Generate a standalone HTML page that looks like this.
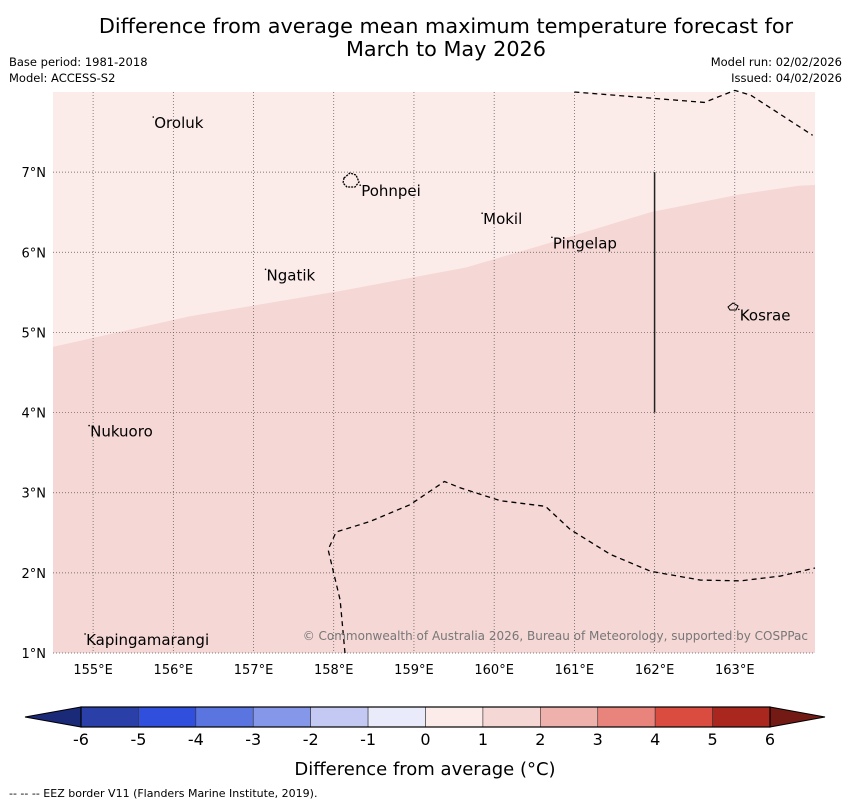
<!DOCTYPE html>
<html><head><meta charset="utf-8"><style>
body{margin:0;background:#fff;width:850px;height:804px;overflow:hidden;font-family:"Liberation Sans","DejaVu Sans",sans-serif}
</style></head><body>
<svg id="chart" width="850" height="804" xmlns="http://www.w3.org/2000/svg" font-family="DejaVu Sans, Liberation Sans, sans-serif">
<text x="446" y="33" font-size="20.8" text-anchor="middle">Difference from average mean maximum temperature forecast for</text>
<text x="446" y="56" font-size="20.8" text-anchor="middle">March to May 2026</text>
<text x="9" y="66" font-size="11.5">Base period: 1981-2018</text>
<text x="9" y="82" font-size="11.5">Model: ACCESS-S2</text>
<text x="842" y="66" font-size="11.5" text-anchor="end">Model run: 02/02/2026</text>
<text x="842" y="82" font-size="11.5" text-anchor="end">Issued: 04/02/2026</text>
<g id="map"></g>
<g id="cbar"></g>
<text x="425" y="775" font-size="18" text-anchor="middle">Difference from average (°C)</text>
<text x="9" y="797" font-size="11">--  --  -- EEZ border V11 (Flanders Marine Institute, 2019).</text>
</svg>
<script>
const lonTicks=[155,156,157,158,159,160,161,162,163];
const latTicks=[1,2,3,4,5,6,7];
const boundaryLon=[154.5,156.2,158.1,159.65,160.6,161.95,163.05,163.8,164];
const boundaryLat=[4.82,5.2,5.52,5.81,6.09,6.5,6.72,6.83,6.84];
const eezTopLon=[161.0,162.62,163.0,163.2,163.97];
const eezTopLat=[8.0,7.87,8.02,7.96,7.46];
const eezBotLon=[158.14,158.08,157.93,158.03,158.45,158.95,159.38,159.58,160.08,160.64,160.95,161.45,161.95,162.57,163.07,163.57,164.0];
const eezBotLat=[1.0,1.66,2.29,2.51,2.64,2.85,3.14,3.06,2.9,2.83,2.54,2.23,2.02,1.91,1.9,1.96,2.06];
const placeNames=["Oroluk","Pohnpei","Mokil","Pingelap","Ngatik","Kosrae","Nukuoro","Kapingamarangi"];
const placeLon=[155.75,158.33,159.85,160.72,157.15,163.05,154.95,154.9];
const placeLat=[7.7,6.85,6.5,6.2,5.8,5.3,3.85,1.25];
const cbLevels=[-6,-5,-4,-3,-2,-1,0,1,2,3,4,5,6];
const cbColors=["#2a40a8","#2f4fdc","#5a74e0","#8597e8","#c3c9f2","#e9ebfb","#fbebe9","#f5d7d5","#eeb1ac","#e8847c","#da4b40","#a9271f"];
const NS="http://www.w3.org/2000/svg";
const X0=53,X1=815,Y0=92,Y1=653,LON0=154.5,LON1=164,LAT0=1,LAT1=8;
const xs=l=>X0+(l-LON0)/(LON1-LON0)*(X1-X0);
const ys=l=>Y1-(l-LAT0)/(LAT1-LAT0)*(Y1-Y0);
function mk(tag,attrs,parent){const e=document.createElementNS(NS,tag);for(const k in attrs)e.setAttribute(k,attrs[k]);parent.appendChild(e);return e;}
const mapG=document.getElementById('map');
const topRegion=mk('rect',{x:X0,y:Y0,width:X1-X0,height:Y1-Y0,fill:'#fbebe9'},mapG);


let dPath='M'+X0+','+Y1;boundaryLon.forEach((l,i)=>dPath+=' L'+xs(l)+','+ys(boundaryLat[i]));dPath+=' L'+X1+','+Y1+'Z';
const lowRegion=mk('path',{d:dPath,fill:'#f5d7d5'},mapG);


lonTicks.forEach(l=>{const g=mk('line',{x1:xs(l),x2:xs(l),y1:Y0,y2:Y1,stroke:'#555','stroke-width':0.7,'stroke-dasharray':'1,2'},mapG);


const t=mk('text',{x:xs(l),y:674,'font-size':13,'text-anchor':'middle'},mapG);t.textContent=l+'°E';

});
latTicks.forEach(l=>{const g=mk('line',{x1:X0,x2:X1,y1:ys(l),y2:ys(l),stroke:'#555','stroke-width':0.7,'stroke-dasharray':'1,2'},mapG);


const t=mk('text',{x:46,y:ys(l)+5,'font-size':13,'text-anchor':'end'},mapG);t.textContent=l+'°N';

});
function pl(lons,lats,name){let p='';lons.forEach((l,i)=>p+=(i?' L':'M')+xs(l)+','+ys(lats[i]));
const e=mk('path',{d:p,fill:'none',stroke:'#000','stroke-width':1.3,'stroke-dasharray':'5,4'},mapG);

}
pl(eezTopLon,eezTopLat,'eez-border-north');
pl(eezBotLon,eezBotLat,'eez-border-south');
const vl=mk('line',{x1:xs(162),x2:xs(162),y1:ys(7),y2:ys(4),stroke:'#222','stroke-width':1.5},mapG);


const pn=mk('path',{d:'M344,178 l6,-5 6,2 3,7 -4,5 -8,0 -4,-4z',fill:'none',stroke:'#000','stroke-width':1.3,'stroke-dasharray':'2,1'},mapG);


const ks=mk('path',{d:'M728,307 l5,-4 5,3 -2,4 -6,0z',fill:'none',stroke:'#000','stroke-width':1},mapG);


placeNames.forEach((n,i)=>{const x=xs(placeLon[i]),y=ys(placeLat[i]);
const dot=mk('circle',{cx:x,cy:y+1,r:0.8,fill:'#000'},mapG);


const t=mk('text',{x:x+1,y:y+12,'font-size':15},mapG);t.textContent=n;

});
const cp=mk('text',{x:808,y:640,'font-size':12,'text-anchor':'end',fill:'#777'},mapG);cp.textContent='© Commonwealth of Australia 2026, Bureau of Meteorology, supported by COSPPac';


const cbG=document.getElementById('cbar');
const C0=81,C1=770,CY=707,CH=20;
const cx=v=>C0+(v-cbLevels[0])/(cbLevels[cbLevels.length-1]-cbLevels[0])*(C1-C0);
const lt=mk('polygon',{points:`${C0},${CY} ${C0},${CY+CH} 25,${CY+CH/2}`,fill:'#1b2a78',stroke:'#000','stroke-width':1},cbG);


const rt=mk('polygon',{points:`${C1},${CY} ${C1},${CY+CH} 825,${CY+CH/2}`,fill:'#731a15',stroke:'#000','stroke-width':1},cbG);


cbColors.forEach((c,i)=>{const r=mk('rect',{x:cx(cbLevels[i]),y:CY,width:cx(cbLevels[i+1])-cx(cbLevels[i]),height:CH,fill:c,stroke:'#333','stroke-width':0.6},cbG);

});
const ob=mk('rect',{x:C0,y:CY,width:C1-C0,height:CH,fill:'none',stroke:'#000','stroke-width':1.2},cbG);


cbLevels.forEach(v=>{const t=mk('text',{x:cx(v),y:745,'font-size':16,'text-anchor':'middle'},cbG);t.textContent=String(v);

});
</script>
</body></html>
